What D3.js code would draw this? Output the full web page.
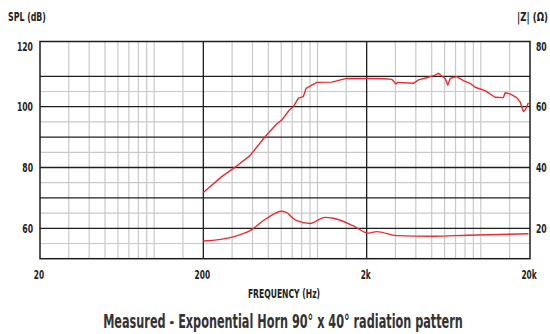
<!DOCTYPE html>
<html>
<head>
<meta charset="utf-8">
<script src="https://cdn.jsdelivr.net/npm/d3@7"></script>
<style>
  html, body { margin: 0; padding: 0; background: #fff; }
  svg { display: block; }
  text { font-family: "DejaVu Sans Condensed", "DejaVu Sans", sans-serif; font-stretch: condensed; font-weight: bold; fill: #222; }
</style>
</head>
<body>
<svg id="chart" width="550" height="334"></svg>
<script>
// Sound pressure level response (dB) over frequency (Hz)
const splFreq = [200, 259, 313, 386, 477, 562, 604, 673, 712, 764, 818, 851, 900, 989, 1222, 1510, 1800, 2099, 2600, 2851, 3027, 3100, 3865, 4150, 4776, 5249, 5498, 5770, 6045, 6281, 6489, 7126, 7825, 8594, 9223, 10617, 12228, 13750, 14080, 15100, 16600, 17390, 18230, 18700, 19550];
const splDb   = [71.8, 77.0, 80.1, 83.9, 90.1, 94.3, 95.6, 98.9, 100.0, 102.8, 103.3, 106.0, 106.8, 108.0, 108.1, 109.3, 109.3, 109.3, 109.2, 109.0, 107.5, 108.0, 107.7, 108.8, 109.7, 110.4, 111.0, 110.1, 109.3, 107.1, 109.3, 109.9, 108.6, 107.7, 106.4, 105.3, 103.1, 103.0, 104.6, 104.2, 103.0, 101.6, 98.4, 98.9, 101.3];

// Impedance magnitude (ohm) over frequency (Hz)
const impFreq = [200, 305, 386, 489, 604, 633, 746, 900, 1112, 1250, 1658, 2047, 2305, 3057, 5126, 8208, 19550];
const impOhm  = [15.8, 17.2, 19.2, 23.3, 25.6, 25.4, 22.5, 21.6, 23.6, 23.3, 20.8, 18.4, 18.9, 17.6, 17.4, 17.7, 18.2];

// Axis ticks
const freqTicks = [20, 200, 2000, 20000];
const freqTickLabels = ["20", "200", "2k", "20k"];
const splTicks = [60, 80, 100, 120];
const impTicks = [20, 40, 60, 80];
const majorDb = [60, 70, 80, 90, 100, 110];
const minorDb = [55, 65, 75, 85, 95, 105];
const minorFreq = [30, 40, 50, 60, 70, 80, 90, 100, 150, 300, 400, 500, 600, 700, 800, 900, 1000, 1500, 3000, 4000, 5000, 6000, 7000, 8000, 9000, 10000, 15000];
const majorFreq = [200, 2000];

const svg = d3.select("#chart");

const left = 40, right = 530, bottom = 258.7, frameTop = 41.5;
const x = d3.scaleLog().domain([20, 20000]).range([left, right]);
const y = d3.scaleLinear().domain([50, 120]).range([bottom, 45.9]);
const yR = d3.scaleLinear().domain([10, 80]).range([bottom, 45.9]);

const dark = "#1e1e1e", light = "#c9c9c9", red = "#ee2a30";
const squeeze = 0.66;   // horizontal compression for the narrow label face

// Light grid
svg.append("g").selectAll("line").data(minorFreq).join("line")
  .attr("x1", d => x(d)).attr("x2", d => x(d))
  .attr("y1", frameTop).attr("y2", bottom)
  .attr("stroke", light).attr("stroke-width", 1.2);
svg.append("g").selectAll("line").data(minorDb).join("line")
  .attr("x1", left).attr("x2", right)
  .attr("y1", d => y(d)).attr("y2", d => y(d))
  .attr("stroke", light).attr("stroke-width", 1.2);

// Dark grid
svg.append("g").selectAll("line").data(majorDb).join("line")
  .attr("x1", left).attr("x2", right)
  .attr("y1", d => y(d)).attr("y2", d => y(d))
  .attr("stroke", dark).attr("stroke-width", 1.3);
svg.append("g").selectAll("line").data(majorFreq).join("line")
  .attr("x1", d => x(d)).attr("x2", d => x(d))
  .attr("y1", frameTop).attr("y2", bottom)
  .attr("stroke", dark).attr("stroke-width", 1.3);

// Frame
svg.append("rect")
  .attr("x", left).attr("y", frameTop)
  .attr("width", right - left).attr("height", bottom - frameTop)
  .attr("fill", "none").attr("stroke", dark).attr("stroke-width", 1.5);

// Curves
const splLine = d3.line().x(d => x(d[0])).y(d => y(d[1])).curve(d3.curveLinear);
svg.append("path")
  .datum(d3.zip(splFreq, splDb))
  .attr("d", splLine)
  .attr("fill", "none").attr("stroke", red).attr("stroke-width", 1.4)
  .attr("stroke-linejoin", "round");

const impLine = d3.line().x(d => x(d[0])).y(d => yR(d[1])).curve(d3.curveMonotoneX);
svg.append("path")
  .datum(d3.zip(impFreq, impOhm))
  .attr("d", impLine)
  .attr("fill", "none").attr("stroke", red).attr("stroke-width", 1.4);

// Narrow label helper: positions at (px, py) and squeezes horizontally
function narrowText(g, px, py, anchor, size, str, sx) {
  return g.append("text")
    .attr("transform", `translate(${px},${py}) scale(${sx || squeeze},1)`)
    .attr("text-anchor", anchor).attr("font-size", size)
    .text(str);
}

// Axis tick labels
const gL = svg.append("g");
splTicks.forEach(d => narrowText(gL, 33, y(d) + 4.7, "end", 13, d));
const gR = svg.append("g");
impTicks.forEach(d => narrowText(gR, 536, yR(d) + 4.7, "start", 13, d));
const gB = svg.append("g");
freqTicks.forEach((d, i) => narrowText(gB, x(d) - 1, 279, "middle", 12.5, freqTickLabels[i]));

// Axis titles and caption
narrowText(svg, 8, 21, "start", 11.5, "SPL (dB)", 0.76);
narrowText(svg, 517, 21, "start", 11.5, "|Z| (Ω)", 0.84);
narrowText(svg, 284, 298, "middle", 12.5, "FREQUENCY (Hz)", 0.68);
narrowText(svg, 283, 328, "middle", 19, "Measured - Exponential Horn 90° x 40° radiation pattern", 0.66)
  .style("fill", "#333");
</script>
</body>
</html>
